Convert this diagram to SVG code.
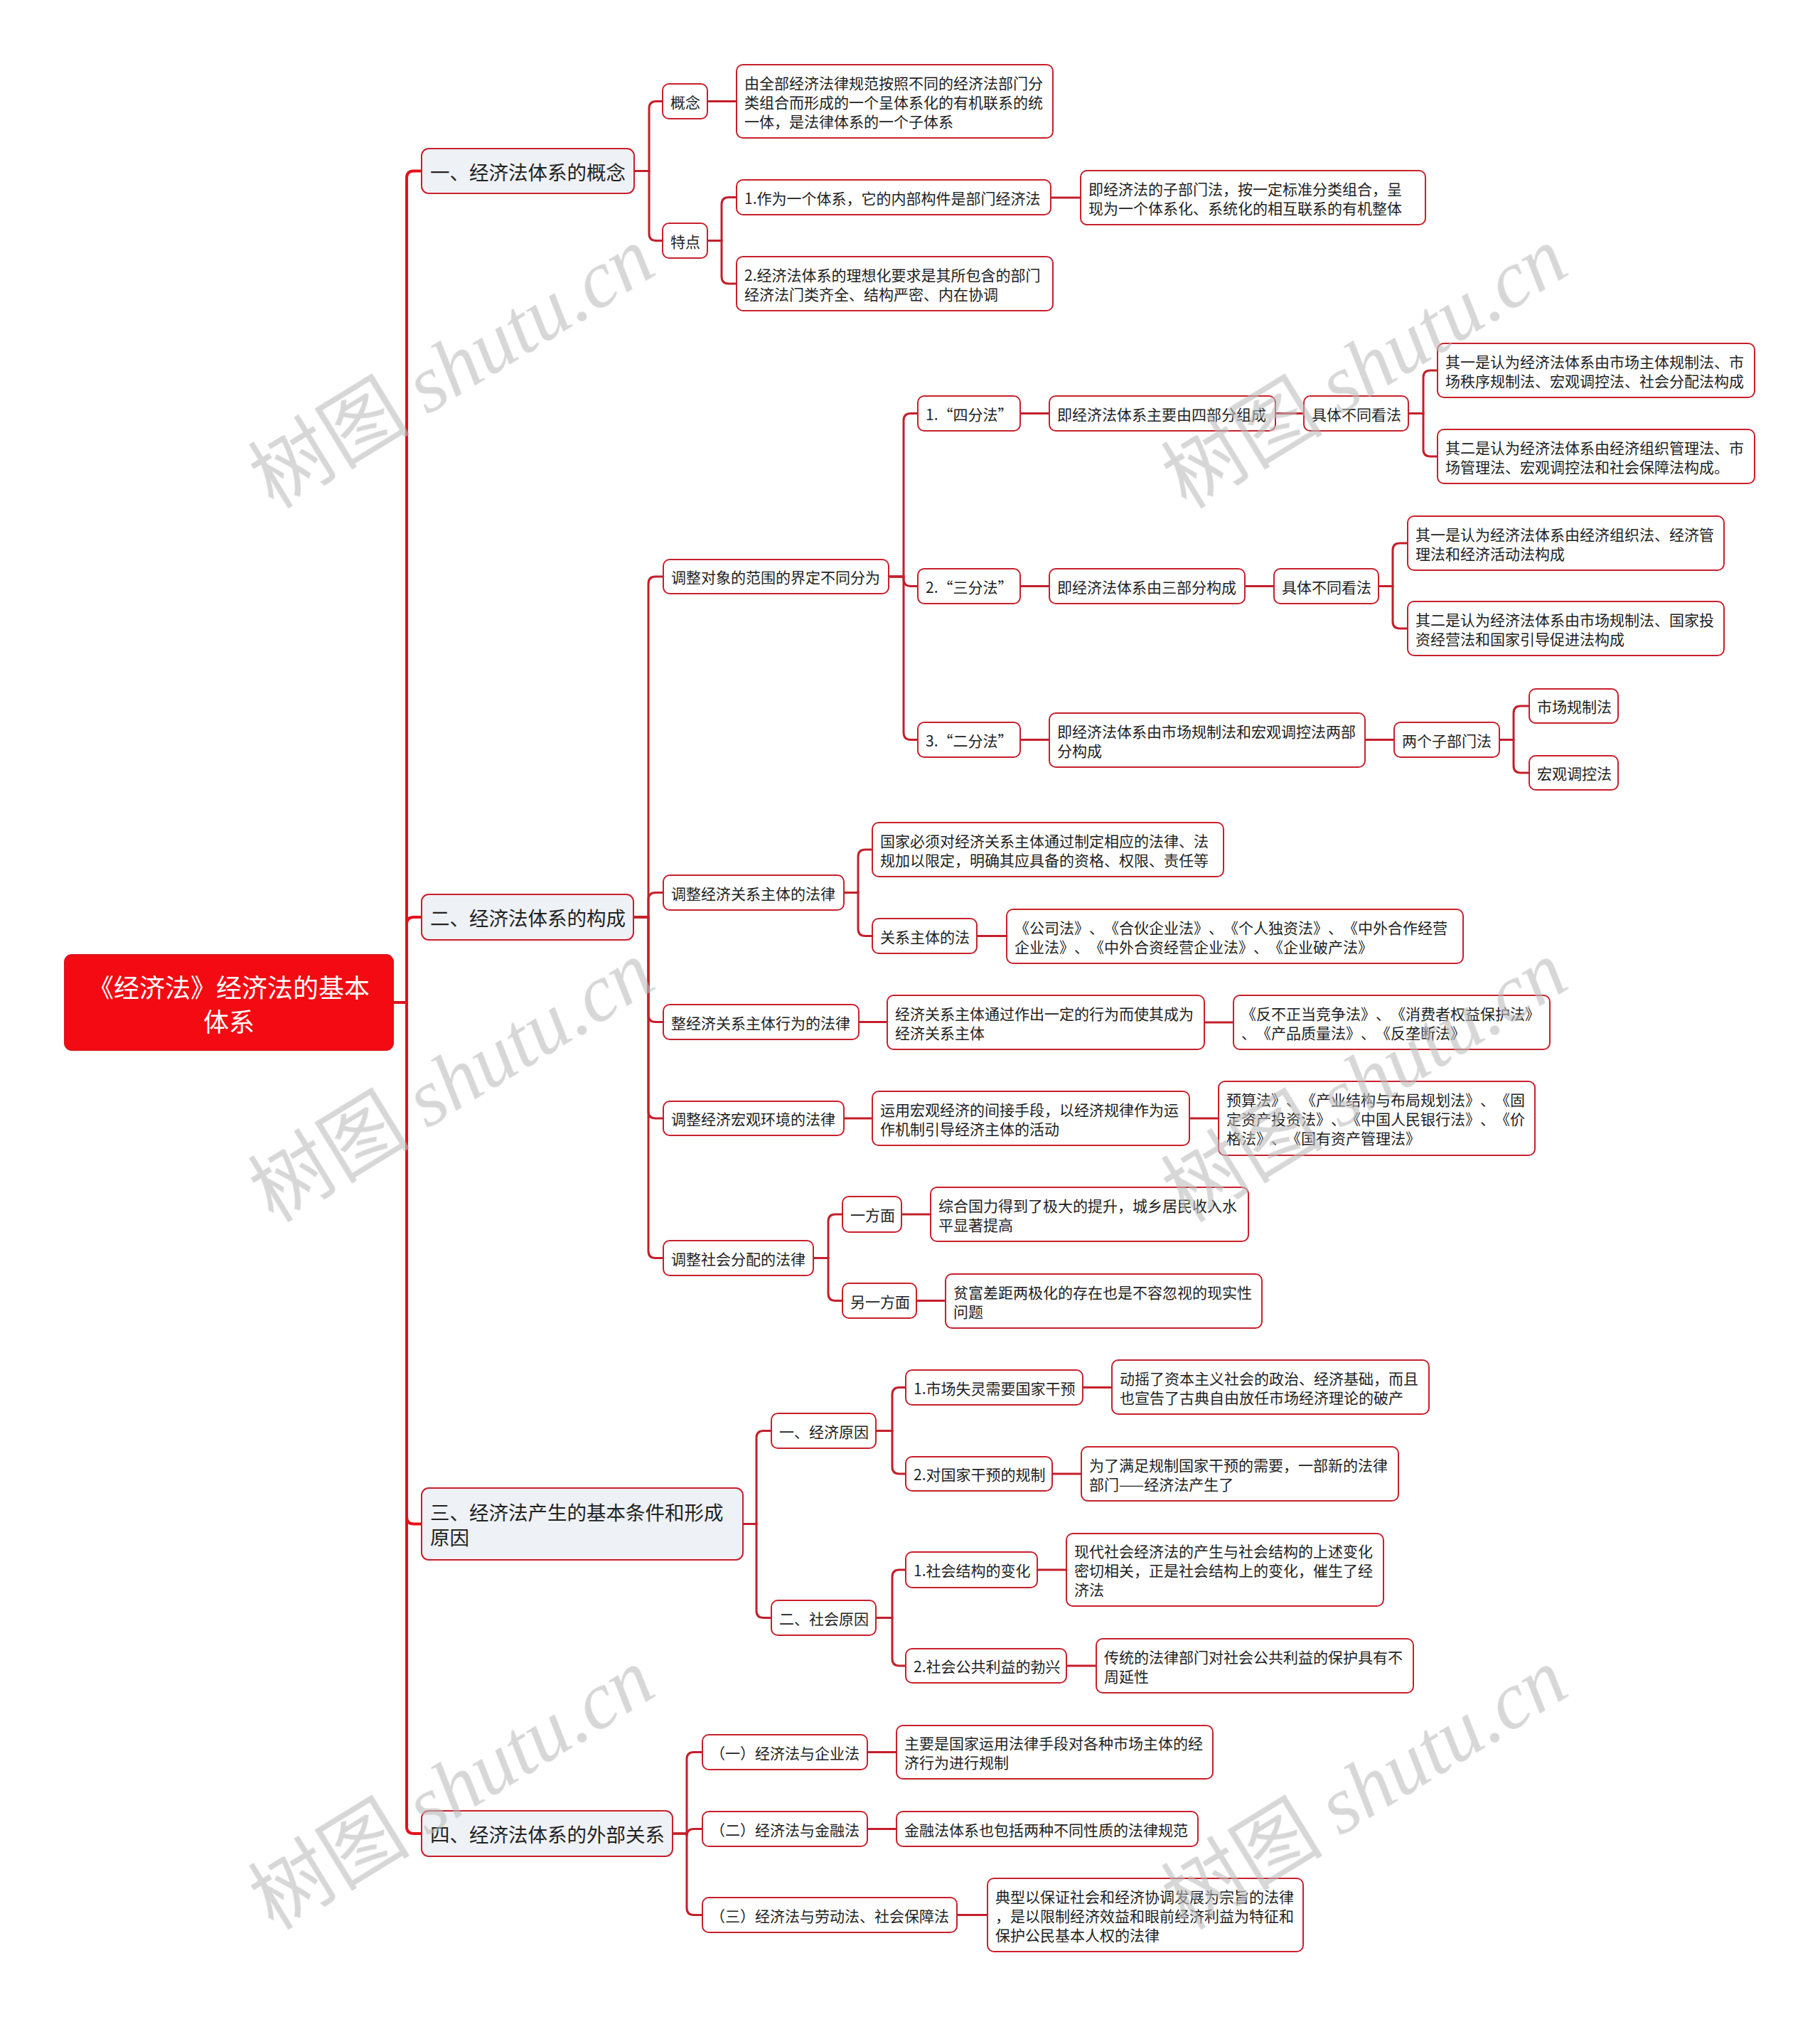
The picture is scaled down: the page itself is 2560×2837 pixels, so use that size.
<svg xmlns="http://www.w3.org/2000/svg" width="2560" height="2837" viewBox="0 0 2560 2837">
<style>
.n{fill:#fff;stroke:#c8202c;stroke-width:2}
.s{fill:#eef1f5;stroke:#c8202c;stroke-width:2}
.r{fill:#f40a12;stroke:#e0101a;stroke-width:2}
.t{font-family:"Noto Sans CJK SC","Noto Sans",sans-serif;font-size:21px;fill:#222;dominant-baseline:central;text-spacing-trim:space-all}
.ts{font-size:27.5px}
.tr{font-size:36px;fill:#fff;text-anchor:middle}
.c{fill:none;stroke:#c41f2b;stroke-width:3}
.c0{fill:none;stroke:#e5101c;stroke-width:4}
.wm{font-size:114px;fill:#bdbdbd;opacity:0.6}
.wmc{font-family:"Noto Sans CJK SC",sans-serif}
.wml{font-family:"Liberation Serif",serif;font-style:italic}
</style>
<rect width="2560" height="2837" fill="#fff"/>
<g id="connectors">
<path class="c0" d="M553 1410 H572 V250.5 Q572 240.5 582 240.5 H593"/>
<path class="c0" d="M553 1410 H572 V1300 Q572 1290 582 1290 H593"/>
<path class="c0" d="M553 1410 H572 V2133.5 Q572 2143.5 582 2143.5 H593"/>
<path class="c0" d="M553 1410 H572 V2569 Q572 2579 582 2579 H593"/>
<path class="c" d="M892 240.5 H913 V152.5 Q913 142.5 923 142.5 H932"/>
<path class="c" d="M892 240.5 H913 V328.5 Q913 338.5 923 338.5 H932"/>
<path class="c" d="M995 142.5 H1036"/>
<path class="c" d="M995 338.5 H1015 V287.5 Q1015 277.5 1025 277.5 H1036"/>
<path class="c" d="M995 338.5 H1015 V389 Q1015 399 1025 399 H1036"/>
<path class="c" d="M1478 278 H1520"/>
<path class="c" d="M891 1290 H912 V821 Q912 811 922 811 H933"/>
<path class="c" d="M891 1290 H912 V1265.5 Q912 1255.5 922 1255.5 H933"/>
<path class="c" d="M891 1290 H912 V1427.5 Q912 1437.5 922 1437.5 H933"/>
<path class="c" d="M891 1290 H912 V1563 Q912 1573 922 1573 H933"/>
<path class="c" d="M891 1290 H912 V1759.5 Q912 1769.5 922 1769.5 H933"/>
<path class="c" d="M1250 811 H1271 V591.5 Q1271 581.5 1281 581.5 H1291"/>
<path class="c" d="M1250 811 H1271 V814.5 Q1271 824.5 1281 824.5 H1291"/>
<path class="c" d="M1250 811 H1271 V1030.5 Q1271 1040.5 1281 1040.5 H1291"/>
<path class="c" d="M1435 581.5 H1476"/>
<path class="c" d="M1794 581.5 H1834"/>
<path class="c" d="M1981 581.5 H2002 V531 Q2002 521 2012 521 H2022"/>
<path class="c" d="M1981 581.5 H2002 V632 Q2002 642 2012 642 H2022"/>
<path class="c" d="M1435 824.5 H1476"/>
<path class="c" d="M1751 824.5 H1792"/>
<path class="c" d="M1939 824.5 H1959 V774 Q1959 764 1969 764 H1980"/>
<path class="c" d="M1939 824.5 H1959 V874 Q1959 884 1969 884 H1980"/>
<path class="c" d="M1435 1040.5 H1476"/>
<path class="c" d="M1920 1040.5 H1961"/>
<path class="c" d="M2109 1040.5 H2129 V1003 Q2129 993 2139 993 H2151"/>
<path class="c" d="M2109 1040.5 H2129 V1077 Q2129 1087 2139 1087 H2151"/>
<path class="c" d="M1187 1255.5 H1207 V1205 Q1207 1195 1217 1195 H1227"/>
<path class="c" d="M1187 1255.5 H1207 V1306.5 Q1207 1316.5 1217 1316.5 H1227"/>
<path class="c" d="M1374 1316.5 H1416"/>
<path class="c" d="M1208 1437.5 H1248"/>
<path class="c" d="M1694 1438 H1735"/>
<path class="c" d="M1187 1573 H1227"/>
<path class="c" d="M1673 1573 H1714"/>
<path class="c" d="M1144 1769.5 H1165 V1718 Q1165 1708 1175 1708 H1185"/>
<path class="c" d="M1144 1769.5 H1165 V1819.5 Q1165 1829.5 1175 1829.5 H1185"/>
<path class="c" d="M1268 1708 H1309"/>
<path class="c" d="M1289 1829.5 H1330"/>
<path class="c" d="M1045 2143.5 H1064 V2022.5 Q1064 2012.5 1074 2012.5 H1085"/>
<path class="c" d="M1045 2143.5 H1064 V2265.5 Q1064 2275.5 1074 2275.5 H1085"/>
<path class="c" d="M1232 2012.5 H1255 V1961.5 Q1255 1951.5 1265 1951.5 H1274"/>
<path class="c" d="M1232 2012.5 H1255 V2063 Q1255 2073 1265 2073 H1274"/>
<path class="c" d="M1523 1951.5 H1564"/>
<path class="c" d="M1480 2073 H1521"/>
<path class="c" d="M1232 2275.5 H1255 V2218 Q1255 2208 1265 2208 H1274"/>
<path class="c" d="M1232 2275.5 H1255 V2333 Q1255 2343 1265 2343 H1274"/>
<path class="c" d="M1459 2208 H1500"/>
<path class="c" d="M1500 2343 H1542"/>
<path class="c" d="M946 2579 H966 V2474.5 Q966 2464.5 976 2464.5 H988"/>
<path class="c" d="M946 2579 H966 V2582.5 Q966 2572.5 976 2572.5 H988"/>
<path class="c" d="M946 2579 H966 V2683.5 Q966 2693.5 976 2693.5 H988"/>
<path class="c" d="M1220 2464.5 H1261"/>
<path class="c" d="M1220 2572.5 H1261"/>
<path class="c" d="M1346 2693.5 H1389"/>
</g>
<g id="root"><rect class="r" x="91" y="1343" width="462" height="134" rx="10"/><text class="t tr" x="322" y="1387">《经济法》经济法的基本</text><text class="t tr" x="322" y="1435">体系</text></g>
<g id="s1"><rect class="s" x="593" y="209" width="299" height="63" rx="10"/><text class="t ts" x="605" y="240.5">一、经济法体系的概念</text></g>
<g id="s2"><rect class="s" x="593" y="1258" width="298" height="64" rx="10"/><text class="t ts" x="605" y="1290">二、经济法体系的构成</text></g>
<g id="s3"><rect class="s" x="593" y="2093" width="452" height="101" rx="10"/><text class="t ts" x="605" y="2126">三、经济法产生的基本条件和形成</text><text class="t ts" x="605" y="2161">原因</text></g>
<g id="s4"><rect class="s" x="593" y="2547" width="353" height="64" rx="10"/><text class="t ts" x="605" y="2579">四、经济法体系的外部关系</text></g>
<g id="gn"><rect class="n" x="932" y="118" width="63" height="49" rx="9"/><text class="t" x="943" y="142.5">概念</text></g>
<g id="td"><rect class="n" x="932" y="314" width="63" height="49" rx="9"/><text class="t" x="943" y="338.5">特点</text></g>
<g id="gn1"><rect class="n" x="1036" y="91" width="445" height="103" rx="9"/><text class="t" x="1047" y="115.5">由全部经济法律规范按照不同的经济法部门分</text><text class="t" x="1047" y="142.5">类组合而形成的一个呈体系化的有机联系的统</text><text class="t" x="1047" y="169.5">一体，是法律体系的一个子体系</text></g>
<g id="td1"><rect class="n" x="1036" y="253" width="442" height="49" rx="9"/><text class="t" x="1047" y="277.5">1.作为一个体系，它的内部构件是部门经济法</text></g>
<g id="td2"><rect class="n" x="1036" y="361" width="445" height="76" rx="9"/><text class="t" x="1047" y="385.5">2.经济法体系的理想化要求是其所包含的部门</text><text class="t" x="1047" y="412.5">经济法门类齐全、结构严密、内在协调</text></g>
<g id="td1r"><rect class="n" x="1520" y="240" width="485" height="76" rx="9"/><text class="t" x="1531" y="264.5">即经济法的子部门法，按一定标准分类组合，呈</text><text class="t" x="1531" y="291.5">现为一个体系化、系统化的相互联系的有机整体</text></g>
<g id="a"><rect class="n" x="933" y="787" width="317" height="48" rx="9"/><text class="t" x="944" y="811">调整对象的范围的界定不同分为</text></g>
<g id="b"><rect class="n" x="933" y="1231" width="254" height="49" rx="9"/><text class="t" x="944" y="1255.5">调整经济关系主体的法律</text></g>
<g id="c"><rect class="n" x="933" y="1413" width="275" height="49" rx="9"/><text class="t" x="944" y="1437.5">整经济关系主体行为的法律</text></g>
<g id="d"><rect class="n" x="933" y="1549" width="254" height="48" rx="9"/><text class="t" x="944" y="1573">调整经济宏观环境的法律</text></g>
<g id="e"><rect class="n" x="933" y="1745" width="211" height="49" rx="9"/><text class="t" x="944" y="1769.5">调整社会分配的法律</text></g>
<g id="a1"><rect class="n" x="1291" y="557" width="144" height="49" rx="9"/><text class="t" x="1302" y="581.5">1.“四分法”</text></g>
<g id="a2"><rect class="n" x="1291" y="800" width="144" height="49" rx="9"/><text class="t" x="1302" y="824.5">2.“三分法”</text></g>
<g id="a3"><rect class="n" x="1291" y="1016" width="144" height="49" rx="9"/><text class="t" x="1302" y="1040.5">3.“二分法”</text></g>
<g id="a1a"><rect class="n" x="1476" y="557" width="318" height="49" rx="9"/><text class="t" x="1487" y="581.5">即经济法体系主要由四部分组成</text></g>
<g id="a1b"><rect class="n" x="1834" y="557" width="147" height="49" rx="9"/><text class="t" x="1845" y="581.5">具体不同看法</text></g>
<g id="a1c"><rect class="n" x="2022" y="483" width="446" height="76" rx="9"/><text class="t" x="2033" y="507.5">其一是认为经济法体系由市场主体规制法、市</text><text class="t" x="2033" y="534.5">场秩序规制法、宏观调控法、社会分配法构成</text></g>
<g id="a1d"><rect class="n" x="2022" y="604" width="446" height="76" rx="9"/><text class="t" x="2033" y="628.5">其二是认为经济法体系由经济组织管理法、市</text><text class="t" x="2033" y="655.5">场管理法、宏观调控法和社会保障法构成。</text></g>
<g id="a2a"><rect class="n" x="1476" y="800" width="275" height="49" rx="9"/><text class="t" x="1487" y="824.5">即经济法体系由三部分构成</text></g>
<g id="a2b"><rect class="n" x="1792" y="800" width="147" height="49" rx="9"/><text class="t" x="1803" y="824.5">具体不同看法</text></g>
<g id="a2c"><rect class="n" x="1980" y="726" width="445" height="76" rx="9"/><text class="t" x="1991" y="750.5">其一是认为经济法体系由经济组织法、经济管</text><text class="t" x="1991" y="777.5">理法和经济活动法构成</text></g>
<g id="a2d"><rect class="n" x="1980" y="846" width="445" height="76" rx="9"/><text class="t" x="1991" y="870.5">其二是认为经济法体系由市场规制法、国家投</text><text class="t" x="1991" y="897.5">资经营法和国家引导促进法构成</text></g>
<g id="a3a"><rect class="n" x="1476" y="1003" width="444" height="76" rx="9"/><text class="t" x="1487" y="1027.5">即经济法体系由市场规制法和宏观调控法两部</text><text class="t" x="1487" y="1054.5">分构成</text></g>
<g id="a3b"><rect class="n" x="1961" y="1016" width="148" height="49" rx="9"/><text class="t" x="1972" y="1040.5">两个子部门法</text></g>
<g id="a3c"><rect class="n" x="2151" y="969" width="125" height="48" rx="9"/><text class="t" x="2162" y="993">市场规制法</text></g>
<g id="a3d"><rect class="n" x="2151" y="1063" width="125" height="48" rx="9"/><text class="t" x="2162" y="1087">宏观调控法</text></g>
<g id="b1"><rect class="n" x="1227" y="1157" width="494" height="76" rx="9"/><text class="t" x="1238" y="1181.5">国家必须对经济关系主体通过制定相应的法律、法</text><text class="t" x="1238" y="1208.5">规加以限定，明确其应具备的资格、权限、责任等</text></g>
<g id="b2"><rect class="n" x="1227" y="1292" width="147" height="49" rx="9"/><text class="t" x="1238" y="1316.5">关系主体的法</text></g>
<g id="b2a"><rect class="n" x="1416" y="1279" width="642" height="76" rx="9"/><text class="t" x="1427" y="1303.5">《公司法》、《合伙企业法》、《个人独资法》、《中外合作经营</text><text class="t" x="1427" y="1330.5">企业法》、《中外合资经营企业法》、《企业破产法》</text></g>
<g id="c1"><rect class="n" x="1248" y="1400" width="446" height="76" rx="9"/><text class="t" x="1259" y="1424.5">经济关系主体通过作出一定的行为而使其成为</text><text class="t" x="1259" y="1451.5">经济关系主体</text></g>
<g id="c2"><rect class="n" x="1735" y="1400" width="445" height="76" rx="9"/><text class="t" x="1746" y="1424.5">《反不正当竞争法》、《消费者权益保护法》</text><text class="t" x="1746" y="1451.5">、《产品质量法》、《反垄断法》</text></g>
<g id="d1"><rect class="n" x="1227" y="1535" width="446" height="76" rx="9"/><text class="t" x="1238" y="1559.5">运用宏观经济的间接手段，以经济规律作为运</text><text class="t" x="1238" y="1586.5">作机制引导经济主体的活动</text></g>
<g id="d2"><rect class="n" x="1714" y="1521" width="445" height="104" rx="9"/><text class="t" x="1725" y="1546">预算法》、《产业结构与布局规划法》、《固</text><text class="t" x="1725" y="1573">定资产投资法》、《中国人民银行法》、《价</text><text class="t" x="1725" y="1600">格法》、《国有资产管理法》</text></g>
<g id="e1"><rect class="n" x="1185" y="1683" width="83" height="50" rx="9"/><text class="t" x="1196" y="1708">一方面</text></g>
<g id="e2"><rect class="n" x="1185" y="1805" width="104" height="49" rx="9"/><text class="t" x="1196" y="1829.5">另一方面</text></g>
<g id="e1a"><rect class="n" x="1309" y="1670" width="447" height="76" rx="9"/><text class="t" x="1320" y="1694.5">综合国力得到了极大的提升，城乡居民收入水</text><text class="t" x="1320" y="1721.5">平显著提高</text></g>
<g id="e2a"><rect class="n" x="1330" y="1792" width="445" height="76" rx="9"/><text class="t" x="1341" y="1816.5">贫富差距两极化的存在也是不容忽视的现实性</text><text class="t" x="1341" y="1843.5">问题</text></g>
<g id="f1"><rect class="n" x="1085" y="1988" width="147" height="49" rx="9"/><text class="t" x="1096" y="2012.5">一、经济原因</text></g>
<g id="f2"><rect class="n" x="1085" y="2251" width="147" height="49" rx="9"/><text class="t" x="1096" y="2275.5">二、社会原因</text></g>
<g id="f11"><rect class="n" x="1274" y="1927" width="249" height="49" rx="9"/><text class="t" x="1285" y="1951.5">1.市场失灵需要国家干预</text></g>
<g id="f12"><rect class="n" x="1274" y="2049" width="206" height="48" rx="9"/><text class="t" x="1285" y="2073">2.对国家干预的规制</text></g>
<g id="f11a"><rect class="n" x="1564" y="1913" width="446" height="76" rx="9"/><text class="t" x="1575" y="1937.5">动摇了资本主义社会的政治、经济基础，而且</text><text class="t" x="1575" y="1964.5">也宣告了古典自由放任市场经济理论的破产</text></g>
<g id="f12a"><rect class="n" x="1521" y="2035" width="446" height="76" rx="9"/><text class="t" x="1532" y="2059.5">为了满足规制国家干预的需要，一部新的法律</text><text class="t" x="1532" y="2086.5">部门——经济法产生了</text></g>
<g id="f21"><rect class="n" x="1274" y="2183" width="185" height="50" rx="9"/><text class="t" x="1285" y="2208">1.社会结构的变化</text></g>
<g id="f22"><rect class="n" x="1274" y="2319" width="226" height="48" rx="9"/><text class="t" x="1285" y="2343">2.社会公共利益的勃兴</text></g>
<g id="f21a"><rect class="n" x="1500" y="2157" width="446" height="102" rx="9"/><text class="t" x="1511" y="2181">现代社会经济法的产生与社会结构的上述变化</text><text class="t" x="1511" y="2208">密切相关，正是社会结构上的变化，催生了经</text><text class="t" x="1511" y="2235">济法</text></g>
<g id="f22a"><rect class="n" x="1542" y="2305" width="446" height="76" rx="9"/><text class="t" x="1553" y="2329.5">传统的法律部门对社会公共利益的保护具有不</text><text class="t" x="1553" y="2356.5">周延性</text></g>
<g id="g1"><rect class="n" x="988" y="2440" width="232" height="49" rx="9"/><text class="t" x="999" y="2464.5">（一）经济法与企业法</text></g>
<g id="g2"><rect class="n" x="988" y="2548" width="232" height="49" rx="9"/><text class="t" x="999" y="2572.5">（二）经济法与金融法</text></g>
<g id="g3"><rect class="n" x="988" y="2669" width="358" height="49" rx="9"/><text class="t" x="999" y="2693.5">（三）经济法与劳动法、社会保障法</text></g>
<g id="g1a"><rect class="n" x="1261" y="2427" width="445" height="75" rx="9"/><text class="t" x="1272" y="2451">主要是国家运用法律手段对各种市场主体的经</text><text class="t" x="1272" y="2478">济行为进行规制</text></g>
<g id="g2a"><rect class="n" x="1261" y="2548" width="424" height="49" rx="9"/><text class="t" x="1272" y="2572.5">金融法体系也包括两种不同性质的法律规范</text></g>
<g id="g3a"><rect class="n" x="1389" y="2642" width="444" height="103" rx="9"/><text class="t" x="1400" y="2666.5">典型以保证社会和经济协调发展为宗旨的法律</text><text class="t" x="1400" y="2693.5">，是以限制经济效益和眼前经济利益为特征和</text><text class="t" x="1400" y="2720.5">保护公民基本人权的法律</text></g>
<g id="watermarks" class="wm" text-anchor="middle">
<text transform="translate(636 1522) rotate(-31.5)" y="38"><tspan class="wmc">树图 </tspan><tspan class="wml">shutu.cn</tspan></text>
<text transform="translate(636 518) rotate(-31.5)" y="38"><tspan class="wmc">树图 </tspan><tspan class="wml">shutu.cn</tspan></text>
<text transform="translate(636 2517) rotate(-31.5)" y="38"><tspan class="wmc">树图 </tspan><tspan class="wml">shutu.cn</tspan></text>
<text transform="translate(1920 518) rotate(-31.5)" y="38"><tspan class="wmc">树图 </tspan><tspan class="wml">shutu.cn</tspan></text>
<text transform="translate(1920 1522) rotate(-31.5)" y="38"><tspan class="wmc">树图 </tspan><tspan class="wml">shutu.cn</tspan></text>
<text transform="translate(1920 2517) rotate(-31.5)" y="38"><tspan class="wmc">树图 </tspan><tspan class="wml">shutu.cn</tspan></text>
</g>
</svg>
